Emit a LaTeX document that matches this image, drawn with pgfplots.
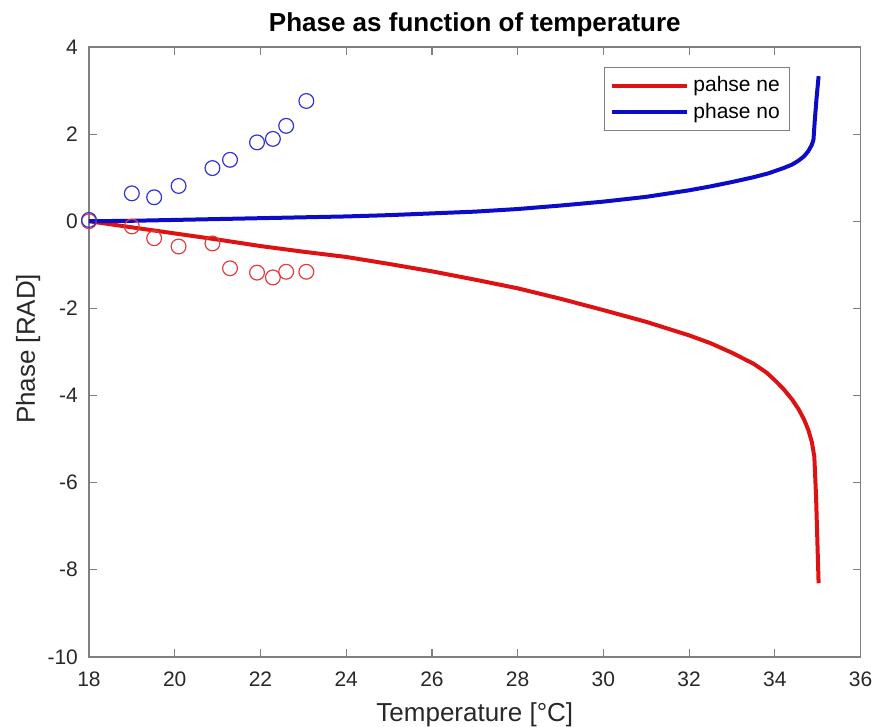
\documentclass[border=0pt]{standalone}
\usepackage{fontspec}
\setmainfont{Liberation Sans}
\usepackage{pgfplots}
\pgfplotsset{compat=1.18}
\definecolor{lred}{RGB}{222,18,18}
\definecolor{lblue}{RGB}{12,12,200}
\definecolor{mred}{RGB}{228,60,60}
\definecolor{mblue}{RGB}{50,50,215}
\definecolor{axgray}{RGB}{128,128,128}
\definecolor{tickgray}{RGB}{40,40,40}
\begin{document}
\begin{tikzpicture}
\begin{axis}[
  scale only axis,
  width=385.9pt, height=305pt,
  xmin=18, xmax=36, ymin=-10, ymax=4,
  xtick={18,20,...,36}, ytick={-10,-8,...,4},
  axis line style={draw=axgray, line width=0.75pt},
  tick style={draw=axgray, line width=0.6pt},
  major tick length=4pt,
  tick align=inside,
  /pgf/number format/assume math mode=true,
  tick label style={font=\fontsize{10.5}{12}\selectfont, color=tickgray},
  xticklabel style={yshift=-3.8pt},
  yticklabel style={xshift=-2pt},
  title={Phase as function of temperature},
  title style={font=\fontsize{13}{15}\selectfont\bfseries, at={(axis description cs:0.5,1)}, anchor=base, yshift=1.5pt, inner sep=0pt},
  xlabel={Temperature [°C]},
  xlabel style={font=\fontsize{13}{15}\selectfont, color=tickgray, at={(axis description cs:0.5,0)}, anchor=base, yshift=-32.3pt, inner sep=0pt},
  ylabel={Phase [RAD]},
  ylabel style={font=\fontsize{13}{15}\selectfont, color=tickgray, at={(axis description cs:-0.070,0.505)}, anchor=base, rotate=0, inner sep=0pt},
  legend style={at={(axis description cs:0.909,0.967)}, anchor=north east,
    draw=axgray, line width=0.6pt, font=\fontsize{10.5}{12}\selectfont,
    inner xsep=3pt, inner ysep=2.5pt, row sep=0pt},
  legend cell align=left,
  legend image code/.code={\draw[#1] (0pt,0pt) -- (37.5pt,0pt);},
]
\addplot[only marks, mark=o, mark size=3.7pt, mark options={draw=mred, line width=0.6pt}, forget plot] coordinates {
(18,0.0) (19.0,-0.12) (19.52,-0.39) (20.09,-0.58) (20.88,-0.51) (21.29,-1.08) (21.92,-1.18) (22.29,-1.29) (22.6,-1.16) (23.07,-1.16)
};
\addplot[only marks, mark=o, mark size=3.7pt, mark options={draw=mblue, line width=0.6pt}, forget plot] coordinates {
(18.0,0.03) (19.0,0.64) (19.52,0.55) (20.09,0.81) (20.88,1.22) (21.29,1.41) (21.92,1.81) (22.29,1.89) (22.6,2.19) (23.07,2.76)
};
\addplot[lred, line width=2pt, line join=round] coordinates {
(18,0) (19,-0.14) (20,-0.28) (21,-0.42) (22,-0.57) (23,-0.70) (24,-0.82) (25,-0.98) (26,-1.15) (27,-1.34) (28,-1.54) (29,-1.78) (30,-2.04) (31,-2.31) (32,-2.62) (32.5,-2.80) (33,-3.02) (33.5,-3.27) (33.8,-3.47) (34.0,-3.65) (34.2,-3.85) (34.4,-4.09) (34.55,-4.31) (34.68,-4.55) (34.78,-4.79) (34.86,-5.06) (34.92,-5.40) (34.96,-6.30) (34.99,-7.30) (35.02,-8.31)
};
\addlegendentry{pahse ne}
\addplot[lblue, line width=2pt, line join=round] coordinates {
(18,0) (19,0.01) (20,0.03) (21,0.05) (22,0.07) (23,0.09) (24,0.11) (25,0.14) (26,0.18) (27,0.22) (28,0.28) (29,0.36) (30,0.45) (31,0.56) (32,0.71) (32.5,0.80) (33,0.90) (33.5,1.01) (33.85,1.10) (34.2,1.22) (34.4,1.30) (34.55,1.39) (34.68,1.49) (34.78,1.61) (34.86,1.75) (34.9,1.87) (34.93,2.3) (34.97,2.8) (35.02,3.33)
};
\addlegendentry{phase no}
\end{axis}
\pgfresetboundingbox
\path ([xshift=-44.5pt,yshift=-35pt]current axis.south west) rectangle ([xshift=6.7pt,yshift=23.5pt]current axis.north east);
\end{tikzpicture}
\end{document}
